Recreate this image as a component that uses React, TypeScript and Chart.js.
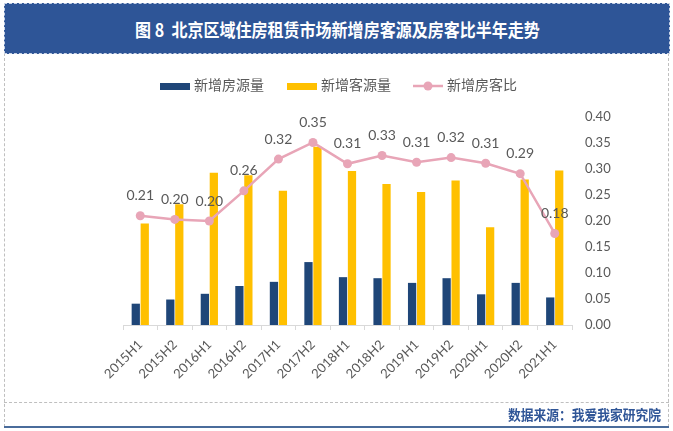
import React, { useEffect, useRef } from "react";
import { Chart, registerables } from "chart.js";

Chart.register(...registerables);

const categories = [
  "2015H1", "2015H2", "2016H1", "2016H2", "2017H1", "2017H2", "2018H1",
  "2018H2", "2019H1", "2019H2", "2020H1", "2020H2", "2021H1",
];
const newListings = [4.1, 4.9, 6.0, 7.5, 8.3, 12.1, 9.2, 9.0, 8.1, 9.0, 5.9, 8.1, 5.3];
const newClients = [19.5, 23.2, 29.3, 28.8, 25.8, 34.3, 29.6, 27.1, 25.6, 27.8, 18.8, 28.0, 29.7];
const ratio = [0.21, 0.203, 0.2, 0.258, 0.319, 0.351, 0.31, 0.326, 0.313, 0.322, 0.311, 0.291, 0.176];
const ratioTicks = [0, 0.05, 0.1, 0.15, 0.2, 0.25, 0.3, 0.35, 0.4];

const seriesNames = ["新增房源量", "新增客源量", "新增房客比"];
const colors = ["#1F4678", "#FFC000", "#E8A5B7"];

const TITLE = "图 8  北京区域住房租赁市场新增房客源及房客比半年走势";
const SOURCE = "数据来源：我爱我家研究院";

const NUM_FONT = "Lato, 'Open Sans', sans-serif";
const CJK_FONT = "'Noto Sans CJK SC', sans-serif";

const legendPlugin = {
  id: "customLegend",
  afterDraw(chart: any) {
    const ctx = chart.ctx;
    ctx.save();
    const y = 86;
    const items = [
      { type: "bar", x: 160, color: colors[0], text: seriesNames[0] },
      { type: "bar", x: 287, color: colors[1], text: seriesNames[1] },
      { type: "line", x: 413, color: colors[2], text: seriesNames[2] },
    ];
    ctx.font = `14px ${CJK_FONT}`;
    ctx.textBaseline = "middle";
    ctx.textAlign = "left";
    for (const it of items) {
      if (it.type === "bar") {
        ctx.fillStyle = it.color;
        ctx.fillRect(it.x, y - 3, 30, 7);
      } else {
        ctx.strokeStyle = it.color;
        ctx.lineWidth = 2.5;
        ctx.beginPath();
        ctx.moveTo(it.x, y);
        ctx.lineTo(it.x + 30, y);
        ctx.stroke();
        ctx.fillStyle = it.color;
        ctx.beginPath();
        ctx.arc(it.x + 15, y, 4.5, 0, Math.PI * 2);
        ctx.fill();
      }
      ctx.fillStyle = "#595959";
      ctx.fillText(it.text, it.x + 34, y - 1);
    }
    ctx.restore();
  },
};

const labelPlugin = {
  id: "pointLabels",
  afterDatasetsDraw(chart: any) {
    const ctx = chart.ctx;
    const meta = chart.getDatasetMeta(2);
    ctx.save();
    ctx.font = `14px ${NUM_FONT}`;
    ctx.fillStyle = "#595959";
    ctx.textAlign = "center";
    ctx.textBaseline = "middle";
    meta.data.forEach((pt: any, i: number) => {
      ctx.fillText(ratio[i].toFixed(2), pt.x, pt.y - 20);
    });
    ctx.restore();
  },
};

export default function App() {
  const canvasRef = useRef<HTMLCanvasElement | null>(null);

  useEffect(() => {
    if (!canvasRef.current) return;
    const chart = new Chart(canvasRef.current, {
      type: "bar",
      data: {
        labels: categories,
        datasets: [
          {
            type: "bar",
            label: seriesNames[0],
            data: newListings,
            backgroundColor: colors[0],
            yAxisID: "y",
            categoryPercentage: 0.52,
            barPercentage: 0.92,
            order: 2,
          },
          {
            type: "bar",
            label: seriesNames[1],
            data: newClients,
            backgroundColor: colors[1],
            yAxisID: "y",
            categoryPercentage: 0.52,
            barPercentage: 0.92,
            order: 2,
          },
          {
            type: "line",
            label: seriesNames[2],
            data: ratio,
            borderColor: colors[2],
            backgroundColor: colors[2],
            borderWidth: 2.5,
            pointRadius: 4.5,
            pointBackgroundColor: colors[2],
            pointBorderWidth: 0,
            yAxisID: "y1",
            order: 1,
          } as any,
        ],
      },
      options: {
        animation: false,
        responsive: false,
        maintainAspectRatio: false,
        layout: { padding: { left: 123, top: 117, right: 0, bottom: 0 } },
        plugins: {
          legend: { display: false },
          tooltip: { enabled: false },
          title: { display: false },
        },
        scales: {
          x: {
            offset: true,
            grid: {
              display: true,
              drawOnChartArea: false,
              drawTicks: true,
              tickLength: 5,
              offset: true,
              color: "#D9D9D9",
            },
            border: { display: true, color: "#D9D9D9", width: 1 },
            ticks: {
              maxRotation: 45,
              minRotation: 45,
              autoSkip: false,
              padding: 7,
              color: "#595959",
              font: { size: 13, family: NUM_FONT },
            },
            afterFit(scale: any) {
              scale.height = 106;
            },
          },
          y: {
            display: false,
            min: 0,
            max: 40,
          },
          y1: {
            position: "right",
            min: 0,
            max: 0.4,
            afterBuildTicks(scale: any) {
              scale.ticks = ratioTicks.map((v) => ({ value: v }));
            },
            grid: { display: false, drawTicks: false },
            border: { display: false },
            ticks: {
              padding: 13,
              color: "#595959",
              font: { size: 13, family: NUM_FONT },
              callback: (v: any) => Number(v).toFixed(2),
            },
            afterFit(scale: any) {
              scale.width = 101;
            },
          },
        },
      } as any,
      plugins: [legendPlugin, labelPlugin],
    });
    return () => chart.destroy();
  }, []);

  return (
    <div
      style={{
        position: "fixed",
        left: 0,
        top: 0,
        width: 673,
        height: 431,
        background: "#FFFFFF",
        overflow: "hidden",
      }}
    >
      <canvas
        ref={canvasRef}
        width={673}
        height={431}
        style={{ position: "absolute", left: 0, top: 0, width: 673, height: 431 }}
      />
      {/* outer dashed frame */}
      <div
        style={{
          position: "absolute",
          left: 4,
          top: 53,
          width: 665,
          height: 374,
          borderLeft: "1px dashed #BFBFBF",
          borderRight: "1px dashed #BFBFBF",
          boxSizing: "border-box",
        }}
      />
      <div
        style={{
          position: "absolute",
          left: 4,
          top: 402,
          width: 665,
          height: 0,
          borderTop: "1px dashed #BFBFBF",
        }}
      />
      <div
        style={{
          position: "absolute",
          left: 4,
          top: 426,
          width: 665,
          height: 2,
          background: "#4A6C9B",
        }}
      />
      {/* title banner */}
      <div
        style={{
          position: "absolute",
          left: 4,
          top: 3,
          width: 666,
          height: 51,
          boxSizing: "border-box",
          background: "#2E5597",
          border: "1px dashed #C9D3E6",
          display: "flex",
          alignItems: "center",
          justifyContent: "center",
        }}
      >
        <span
          style={{
            color: "#FFFFFF",
            fontFamily: CJK_FONT,
            fontWeight: 700,
            fontSize: 18,
            whiteSpace: "pre",
            display: "inline-block",
            transform: "scaleX(0.89)",
            transformOrigin: "center",
          }}
        >
          {TITLE}
        </span>
      </div>
      {/* source */}
      <div
        style={{
          position: "absolute",
          right: 12,
          top: 402,
          height: 24,
          display: "flex",
          alignItems: "center",
        }}
      >
        <span
          style={{
            color: "#2F5597",
            fontFamily: CJK_FONT,
            fontWeight: 700,
            fontSize: 14,
            whiteSpace: "pre",
            display: "inline-block",
            transform: "scaleX(0.91)",
            transformOrigin: "right center",
          }}
        >
          {SOURCE}
        </span>
      </div>
    </div>
  );
}
